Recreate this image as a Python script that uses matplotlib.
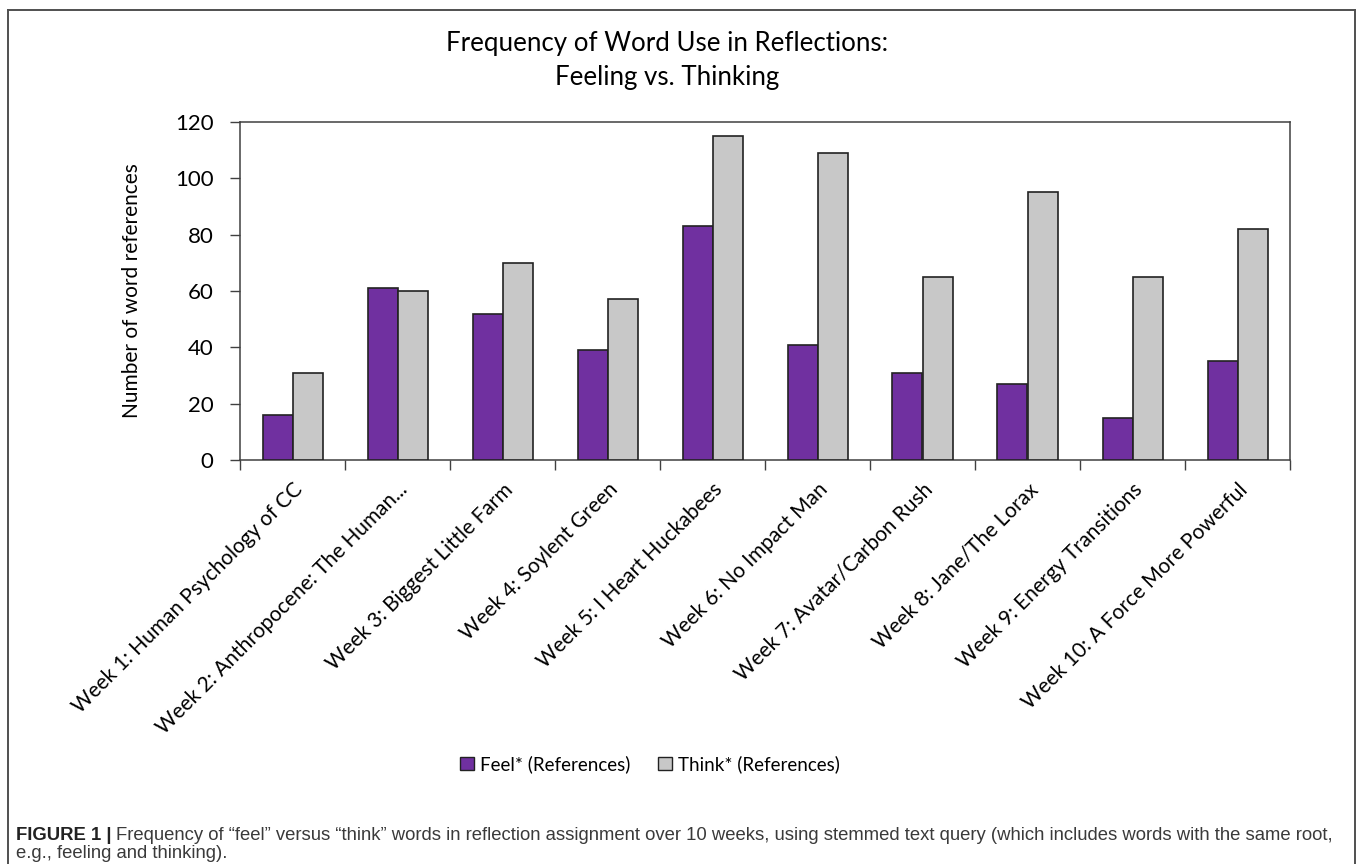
import numpy as np
import matplotlib.pyplot as plt
from matplotlib.lines import Line2D
from matplotlib.patches import Patch

WEEKS = ['Week 1: Human Psychology of CC', 'Week 2: Anthropocene: The Human...',
         'Week 3: Biggest Little Farm', 'Week 4: Soylent Green', 'Week 5: I Heart Huckabees',
         'Week 6: No Impact Man', 'Week 7: Avatar/Carbon Rush', 'Week 8: Jane/The Lorax',
         'Week 9: Energy Transitions', 'Week 10: A Force More Powerful']
FEEL = [16, 61, 52, 39, 83, 41, 31, 27, 15, 35]
THINK = [31, 60, 70, 57, 115, 109, 65, 95, 65, 82]
YTICKS = [0, 20, 40, 60, 80, 100, 120]

PURPLE = '#7030A0'
GREY = '#C8C8C8'
FONT = 'Lato'

W, H = 1357, 864
fig = plt.figure(figsize=(W / 100, H / 100), dpi=100)

# frame around chart + caption
frame_kw = dict(color='#505050', lw=1.4, transform=fig.transFigure)
fig.add_artist(Line2D([8 / W, 8 / W], [0, 1 - 10 / H], **frame_kw))
fig.add_artist(Line2D([8 / W, 1355 / W], [1 - 10 / H, 1 - 10 / H], **frame_kw))
fig.add_artist(Line2D([1355 / W, 1355 / W], [0, 1 - 10 / H], **frame_kw))

ax = fig.add_axes([240 / W, 1 - 460 / H, 1050 / W, 338 / H])

x = np.arange(len(WEEKS))
bw = 30 / 105
ax.bar(x - bw / 2, FEEL, bw, color=PURPLE, edgecolor='#222222', linewidth=1.2, zorder=3)
ax.bar(x + bw / 2, THINK, bw, color=GREY, edgecolor='#222222', linewidth=1.2, zorder=3)

ax.set_xlim(-0.5, len(WEEKS) - 0.5)
ax.set_ylim(0, 120)
ax.set_yticks(YTICKS)
ax.set_yticklabels([str(v) for v in YTICKS], fontsize=16, family=FONT)
ax.tick_params(axis='y', length=7, width=1, color='#404040', pad=12)

# category ticks sit between groups, labels at group centres
ax.set_xticks(x)
ax.set_xticklabels(WEEKS, rotation=45, ha='right', rotation_mode='anchor',
                   fontsize=15, family=FONT)
ax.tick_params(axis='x', which='major', length=0, pad=14)
ax.set_xticks(np.arange(-0.5, len(WEEKS)), minor=True)
ax.tick_params(axis='x', which='minor', length=7, width=1, color='#404040')

for s in ax.spines.values():
    s.set_color('#404040')
    s.set_linewidth(1.1)

ax.set_ylabel('Number of word references', fontsize=15, family=FONT, labelpad=24)

fig.text(667 / W, 1 - 43 / H, 'Frequency of Word Use in Reflections:', ha='center', va='center',
         fontsize=18.6, family=FONT)
fig.text(667 / W, 1 - 77 / H, 'Feeling vs. Thinking', ha='center', va='center',
         fontsize=18.6, family=FONT)

handles = [Patch(facecolor=PURPLE, edgecolor='#222222', linewidth=1),
           Patch(facecolor=GREY, edgecolor='#222222', linewidth=1)]
fig.legend(handles, ['Feel* (References)', 'Think* (References)'], loc='center',
           bbox_to_anchor=(650 / W, 1 - 764 / H), ncol=2, frameon=False,
           prop={'family': FONT, 'size': 13.5}, handlelength=0.75, handleheight=0.75,
           handletextpad=0.3, columnspacing=1.5)

cap_kw = dict(fontsize=13.3, family='Liberation Sans', va='baseline')
tag = fig.text(16 / W, 1 - 840 / H, 'FIGURE 1 |', fontweight='bold', color='#222222', **cap_kw)
renderer = fig.canvas.get_renderer()
tag_end = tag.get_window_extent(renderer).x1
fig.text((tag_end + 5) / W, 1 - 840 / H,
         'Frequency of \u201cfeel\u201d versus \u201cthink\u201d words in reflection assignment over 10 weeks, '
         'using stemmed text query (which includes words with the same root,',
         color='#3a3a3a', **cap_kw)
fig.text(16 / W, 1 - 858 / H, 'e.g., feeling and thinking).', color='#3a3a3a', **cap_kw)

fig.savefig('out.png', dpi=100)
